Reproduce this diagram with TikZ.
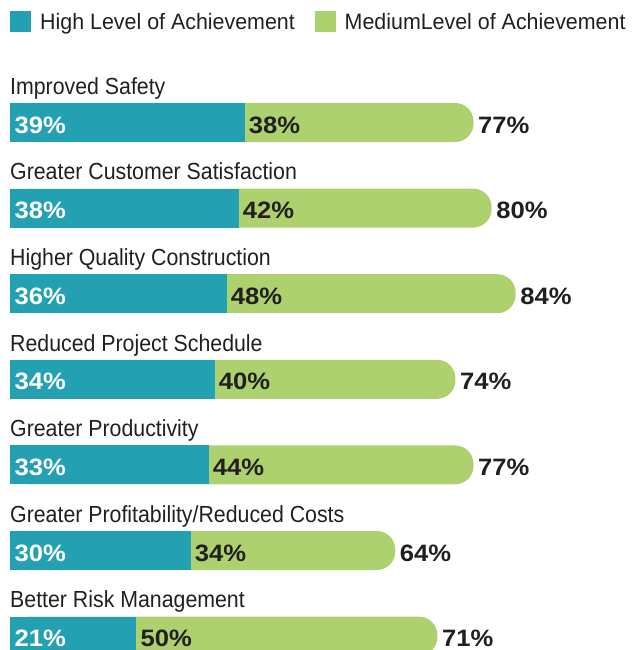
\documentclass[tikz,border=0pt]{standalone}
\usepackage{fontspec}
\setmainfont{Liberation Sans}
\newfontfamily\labelfont[FakeStretch=0.915]{Liberation Sans}
\newfontfamily\keyfont[FakeStretch=0.96]{Liberation Sans}
\newfontfamily\pctfont[FakeStretch=1.08]{Liberation Sans}
\usetikzlibrary{positioning}

\definecolor{hightone}{RGB}{35,161,179}
\definecolor{midtone}{RGB}{173,209,110}
\definecolor{inktone}{RGB}{35,31,32}

\tikzset{
  legendbox/.style={minimum size=21pt,inner sep=0pt,outer sep=0pt},
  legendtext/.style={anchor=base west,inner sep=0pt,text=inktone,font=\keyfont\fontsize{22.3}{26}\selectfont},
  rowlabel/.style={anchor=base west,inner sep=0pt,text=inktone,font=\labelfont\fontsize{23.3}{28}\selectfont},
  pct/.style={anchor=base west,inner sep=0pt,font=\pctfont\bfseries\fontsize{23.7}{28}\selectfont},
}

\begin{document}
\begin{tikzpicture}[x=1pt,y=-1pt]
\useasboundingbox (0,0) rectangle (637,650);
\clip (0,0) rectangle (637,650);

% legend
\node[legendbox,fill=hightone,anchor=north west] (key high) at (10,11.5) {};
\node[legendtext] (text high) at (40,29.3) {High Level of Achievement};
\node[legendbox,fill=midtone,anchor=north west] (key mid) at (315,11.5) {};
\node[legendtext] (text mid) at (344.5,29.3) {MediumLevel of Achievement};

% bars
\foreach \lab/\hiv/\midv/\totv [count=\i from 0] in {
    Improved Safety/39/38/77,
    Greater Customer Satisfaction/38/42/80,
    Higher Quality Construction/36/48/84,
    Reduced Project Schedule/34/40/74,
    Greater Productivity/33/44/77,
    Greater Profitability\slash Reduced Costs/30/34/64,
    Better Risk Management/21/50/71}{
  \pgfmathsetmacro{\ytop}{103+85.6*\i}
  \pgfmathsetmacro{\xhi}{10+6.02*\hiv}
  \pgfmathsetmacro{\xtot}{10+6.02*\totv}
  \node[rowlabel] (label \i) at (10,\ytop-8.7) {\lab};
  \fill[midtone,rounded corners=18.5pt] (10,\ytop) rectangle (\xtot,\ytop+39);
  \fill[hightone] (10,\ytop) rectangle (\xhi,\ytop+39);
  \node[pct,text=white] (high \i) at (14.5,\ytop+30) {\hiv\%};
  \node[pct,text=inktone] (mid \i) at (\xhi+4,\ytop+30) {\midv\%};
  \node[pct,text=inktone] (total \i) at (\xtot+4.5,\ytop+30) {\totv\%};
}
\end{tikzpicture}
\end{document}
